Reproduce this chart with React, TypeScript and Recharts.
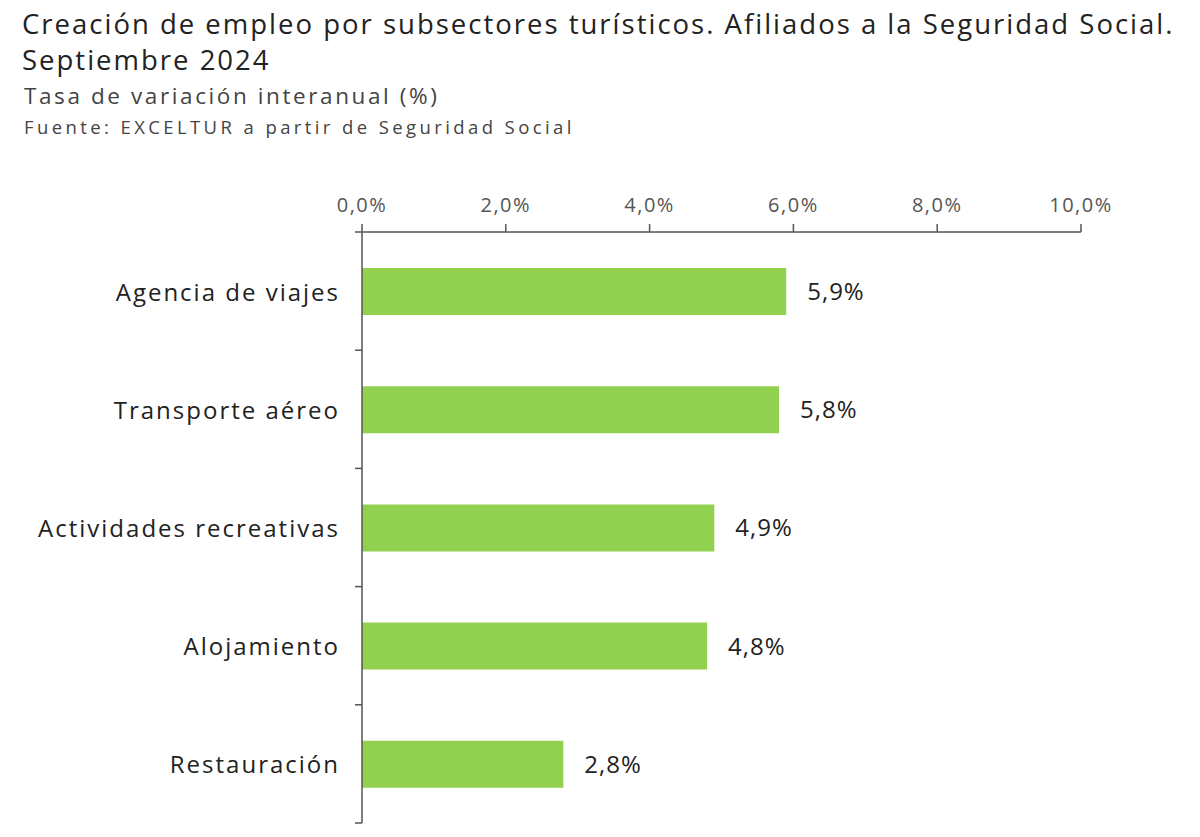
import { Bar, BarChart, LabelList, XAxis, YAxis } from "recharts";

const CATEGORIES = [
  "Agencia de viajes",
  "Transporte aéreo",
  "Actividades recreativas",
  "Alojamiento",
  "Restauración",
];
const VALUES = [5.9, 5.8, 4.9, 4.8, 2.8];
const X_TICKS = [0, 2, 4, 6, 8, 10];

const FONT = "'Open Sans', 'Noto Sans', sans-serif";
const AXIS_COLOR = "#555";

const data = CATEGORIES.map((name, i) => ({ name, value: VALUES[i] }));

const pct = (v: number) => `${v.toFixed(1).replace(".", ",")}%`;

// category label plus the little boundary ticks between bands
const CategoryTick = (props: any) => {
  const { x, y, payload, index } = props;
  const half = payload?.offset ?? 59;
  const axisX = x + 8;
  return (
    <g>
      <text
        x={axisX - 22}
        y={y}
        textAnchor="end"
        dominantBaseline="central"
        fill="#222"
        fontSize={24}
        letterSpacing={2}
        fontFamily={FONT}
      >
        {payload.value}
      </text>
      {index === 0 && (
        <line x1={axisX - 7} x2={axisX} y1={y - half} y2={y - half} stroke={AXIS_COLOR} strokeWidth={1.5} />
      )}
      <line x1={axisX - 7} x2={axisX} y1={y + half} y2={y + half} stroke={AXIS_COLOR} strokeWidth={1.5} />
    </g>
  );
};

export default function App() {
  return (
    <div
      style={{
        position: "absolute",
        left: 0,
        top: 0,
        width: 1200,
        height: 837,
        background: "#fff",
        fontFamily: FONT,
      }}
    >
      <div style={{ position: "absolute", left: 22, top: 6, fontSize: 27.5, color: "#222", lineHeight: "36px", letterSpacing: 2.0, whiteSpace: "nowrap" }}>
        Creación de empleo por subsectores turísticos. Afiliados a la Seguridad Social.
        <br />
        Septiembre 2024
      </div>
      <div style={{ position: "absolute", left: 24, top: 80, fontSize: 22.5, color: "#444", letterSpacing: 2.6, whiteSpace: "nowrap" }}>
        Tasa de variación interanual (%)
      </div>
      <div style={{ position: "absolute", left: 24, top: 114, fontSize: 18.5, color: "#444", letterSpacing: 3.4, whiteSpace: "nowrap" }}>
        Fuente: EXCELTUR a partir de Seguridad Social
      </div>
      <BarChart
        width={1200}
        height={837}
        data={data}
        layout="vertical"
        margin={{ top: 172, right: 119, bottom: 14, left: 0 }}
        barSize={47}
      >
        <XAxis
          type="number"
          orientation="top"
          domain={[0, 10]}
          ticks={X_TICKS}
          tickFormatter={pct}
          height={60}
          tickSize={8}
          tickMargin={12}
          axisLine={{ stroke: AXIS_COLOR, strokeWidth: 1.5 }}
          tickLine={{ stroke: AXIS_COLOR, strokeWidth: 1.5 }}
          tick={{ fill: "#555", fontSize: 20, fontFamily: FONT, letterSpacing: 1.5 }}
        />
        <YAxis
          type="category"
          dataKey="name"
          width={362}
          axisLine={{ stroke: AXIS_COLOR, strokeWidth: 1.5 }}
          tickLine={false}
          tickSize={0}
          tickMargin={8}
          tick={<CategoryTick />}
          interval={0}
        />
        <Bar dataKey="value" fill="#92D050" isAnimationActive={false}>
          <LabelList
            dataKey="value"
            position="right"
            offset={21}
            formatter={(v: any) => pct(Number(v))}
            fill="#222"
            fontSize={24}
            letterSpacing={1}
            fontFamily={FONT}
          />
        </Bar>
      </BarChart>
    </div>
  );
}
